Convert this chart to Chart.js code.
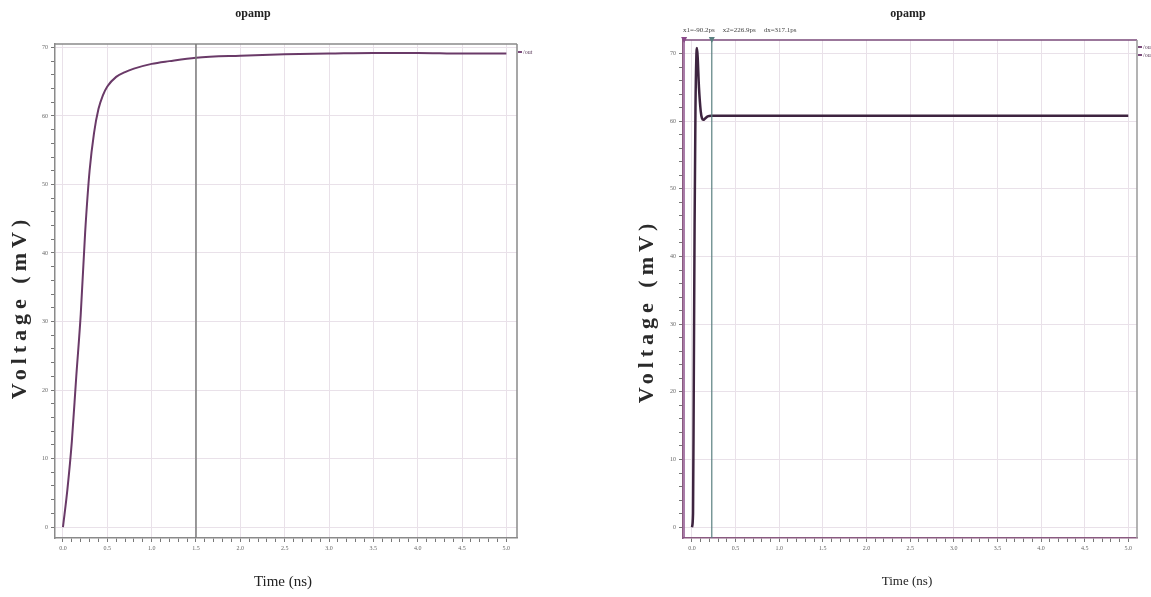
<!DOCTYPE html>
<html><head><meta charset="utf-8">
<script src="https://cdn.jsdelivr.net/npm/chart.js@4.4.0/dist/chart.umd.min.js"></script>
<style>
html,body{margin:0;padding:0;background:#fff;}
#wrap{position:relative;width:1151px;height:597px;overflow:hidden;}
canvas{position:absolute;top:0;}
#c1{left:0;}
#c2{left:575px;}
</style></head><body>
<div id="wrap"><canvas id="c1" width="575" height="597"></canvas><canvas id="c2" width="576" height="597"></canvas></div>
<script>
// ---- data ----
const CHART_TITLE = 'opamp';
const Y_TITLE = 'Voltage (mV)';
const X_TITLE = 'Time (ns)';
const X_TICK_LABELS = ['0.0','0.5','1.0','1.5','2.0','2.5','3.0','3.5','4.0','4.5','5.0'];
const X_TICK_VALUES = [0,0.5,1,1.5,2,2.5,3,3.5,4,4.5,5];
const Y_TICK_LABELS = ['0','10','20','30','40','50','60','70'];
const Y_TICK_VALUES = [0,10,20,30,40,50,60,70];
const LEGEND_LABEL = '/out';

const LEFT_T = [0,0.05,0.1,0.15,0.2,0.25,0.3,0.35,0.4,0.45,0.5,0.6,0.7,0.8,1.0,1.2,1.5,2.0,2.5,3.0,3.5,4.0,4.5,5.0];
const LEFT_V = [0,5.5,12.5,22,31,43,52,57.5,61,63,64.3,65.7,66.4,66.9,67.6,68.0,68.5,68.8,69.0,69.1,69.2,69.2,69.1,69.1];
const LEFT_CURSOR = [1.5];

const RIGHT_T = [0,0.012,0.02,0.03,0.04,0.05,0.057,0.065,0.08,0.1,0.115,0.13,0.15,0.18,0.22,0.3,0.5,1,2,3,4,5];
const RIGHT_V = [0,2,20,45,62,69.5,70.8,69.5,65,61.5,60.4,60.2,60.4,60.7,60.8,60.8,60.8,60.8,60.8,60.8,60.8,60.8];
const RIGHT_CURSORS = [-0.0902, 0.2269];
const CURSOR_TEXT = ['x1=-90.2ps', 'x2=226.9ps', 'dx=317.1ps'];

const SERIF = '"Liberation Serif","DejaVu Serif",serif';

function minorTicks(lo, hi, step){
  const out=[]; const n=Math.round((hi-lo)/step);
  for(let i=0;i<=n;i++) out.push(Math.round((lo+i*step)*1000)/1000);
  return out;
}
function isMajor(v, list){ return list.some(m=>Math.abs(m-v)<1e-6); }
function labelFor(v, vals, labels){ const i=vals.findIndex(m=>Math.abs(m-v)<1e-6); return i>=0?labels[i]:''; }

function makeChart(id, cfg){
  const decor = {
    id:'decor',
    afterDraw(chart){
      const ctx=chart.ctx, a=chart.chartArea, xs=chart.scales.x;
      ctx.save();
      ctx.strokeStyle=cfg.frameTop; ctx.lineWidth=1.5;
      ctx.beginPath(); ctx.moveTo(a.left,a.top); ctx.lineTo(a.right,a.top); ctx.stroke();
      ctx.strokeStyle=cfg.frameRight;
      ctx.beginPath(); ctx.moveTo(a.right,a.top); ctx.lineTo(a.right,a.bottom); ctx.stroke();
      cfg.cursors.forEach((c,i)=>{
        const px=xs.getPixelForValue(c);
        ctx.strokeStyle=cfg.cursorColors[i]; ctx.lineWidth=cfg.cursorWidth;
        ctx.beginPath(); ctx.moveTo(px,a.top); ctx.lineTo(px,a.bottom); ctx.stroke();
        if(cfg.markers){
          ctx.fillStyle=cfg.cursorColors[i];
          ctx.beginPath(); ctx.moveTo(px-3,a.top-3); ctx.lineTo(px+3,a.top-3); ctx.lineTo(px,a.top+3); ctx.closePath(); ctx.fill();
        }
      });
      ctx.fillStyle='#222'; ctx.textAlign='center'; ctx.textBaseline='middle';
      ctx.font='bold 12px '+SERIF;
      ctx.fillText(CHART_TITLE, cfg.titleX, 14);
      ctx.font=cfg.xTitleSize+'px '+SERIF;
      ctx.fillText(X_TITLE, cfg.xTitleX, cfg.xTitleY);
      ctx.save();
      ctx.translate(cfg.yTitleX, cfg.yTitleY); ctx.rotate(-Math.PI/2);
      ctx.font='bold 22px '+SERIF; ctx.letterSpacing='5px';
      ctx.fillStyle='#2a2a2a';
      ctx.fillText(Y_TITLE, 0, 0);
      ctx.restore();
      ctx.font='6px '+SERIF; ctx.textAlign='left';
      cfg.legendY.forEach(y=>{
        ctx.fillStyle='#7a4a7a';
        ctx.fillRect(a.right+1, y-1, 4, 2);
        ctx.fillStyle='#5a3a5a';
        ctx.fillText(LEGEND_LABEL, a.right+6, y);
      });
      if(cfg.cursorText){
        ctx.font='7px '+SERIF; ctx.fillStyle='#444'; ctx.textAlign='left';
        let x=a.left;
        CURSOR_TEXT.forEach(t=>{ ctx.fillText(t, x, a.top-10); x+=ctx.measureText(t).width+8; });
      }
      ctx.restore();
    }
  };
  return new Chart(document.getElementById(id), {
    type:'scatter',
    data:{datasets:[{
      data: cfg.t.map((t,i)=>({x:t,y:cfg.v[i]})),
      showLine:true, borderColor:cfg.lineColor, borderWidth:cfg.lineWidth,
      pointRadius:0, fill:false, cubicInterpolationMode:'monotone'
    }]},
    options:{
      responsive:false, animation:false, maintainAspectRatio:false,
      layout:{padding:{top:cfg.top,right:cfg.padRight,left:0,bottom:0}},
      plugins:{legend:{display:false},title:{display:false},tooltip:{enabled:false}},
      scales:{
        x:{type:'linear',min:cfg.xmin,max:cfg.xmax,
          afterBuildTicks(s){ s.ticks=minorTicks(0,5,0.1).map(v=>({value:v})); },
          afterFit(s){ s.height=597-538; },
          ticks:{autoSkip:false,maxRotation:0,padding:3,color:'#666',font:{family:SERIF,size:6},
            callback:(v)=>labelFor(v,X_TICK_VALUES,X_TICK_LABELS)},
          grid:{color:(c)=>isMajor(c.tick.value,X_TICK_VALUES)?'#e9e1e9':'rgba(0,0,0,0)',
            tickColor:'#777',tickLength:4,lineWidth:1},
          border:{display:true,color:cfg.frameBottom,width:1.5}
        },
        y:{type:'linear',min:cfg.ymin,max:cfg.ymax,
          afterBuildTicks(s){ s.ticks=minorTicks(0,70,2).map(v=>({value:v})); },
          afterFit(s){ s.width=cfg.yWidth; },
          ticks:{autoSkip:false,padding:3,color:'#666',font:{family:SERIF,size:6},
            callback:(v)=>labelFor(v,Y_TICK_VALUES,Y_TICK_LABELS)},
          grid:{color:(c)=>isMajor(c.tick.value,Y_TICK_VALUES)?'#e9e1e9':'rgba(0,0,0,0)',
            tickColor:'#777',tickLength:4,lineWidth:1},
          border:{display:true,color:cfg.frameLeft,width:1.5}
        }
      }
    },
    plugins:[decor]
  });
}

makeChart('c1',{
  t:LEFT_T, v:LEFT_V, lineColor:'#6a3a68', lineWidth:2,
  xmin:-0.09, xmax:5.12, ymin:-1.6, ymax:70.5,
  top:44, padRight:58, yWidth:55,
  frameTop:'#8a8a8a', frameRight:'#8a8a8a', frameBottom:'#8a8a8a', frameLeft:'#8a8a8a',
  cursors:LEFT_CURSOR, cursorColors:['#7a7a7a'], cursorWidth:1.5, markers:false,
  titleX:253, xTitleX:283, xTitleY:582, xTitleSize:15, yTitleX:20, yTitleY:307,
  legendY:[52], cursorText:false
});
makeChart('c2',{
  t:RIGHT_T, v:RIGHT_V, lineColor:'#3e2440', lineWidth:2.5,
  xmin:-0.103, xmax:5.10, ymin:-1.6, ymax:72.0,
  top:40, padRight:14, yWidth:108,
  frameTop:'#7a4a7a', frameRight:'#9a9a9a', frameBottom:'#8a5a80', frameLeft:'#8a5a80',
  cursors:RIGHT_CURSORS, cursorColors:['#8a4a8a','#5a8080'], cursorWidth:1.2, markers:true,
  titleX:333, xTitleX:332, xTitleY:582, xTitleSize:13, yTitleX:72, yTitleY:311,
  legendY:[47,55], cursorText:true
});
</script>
</body></html>
